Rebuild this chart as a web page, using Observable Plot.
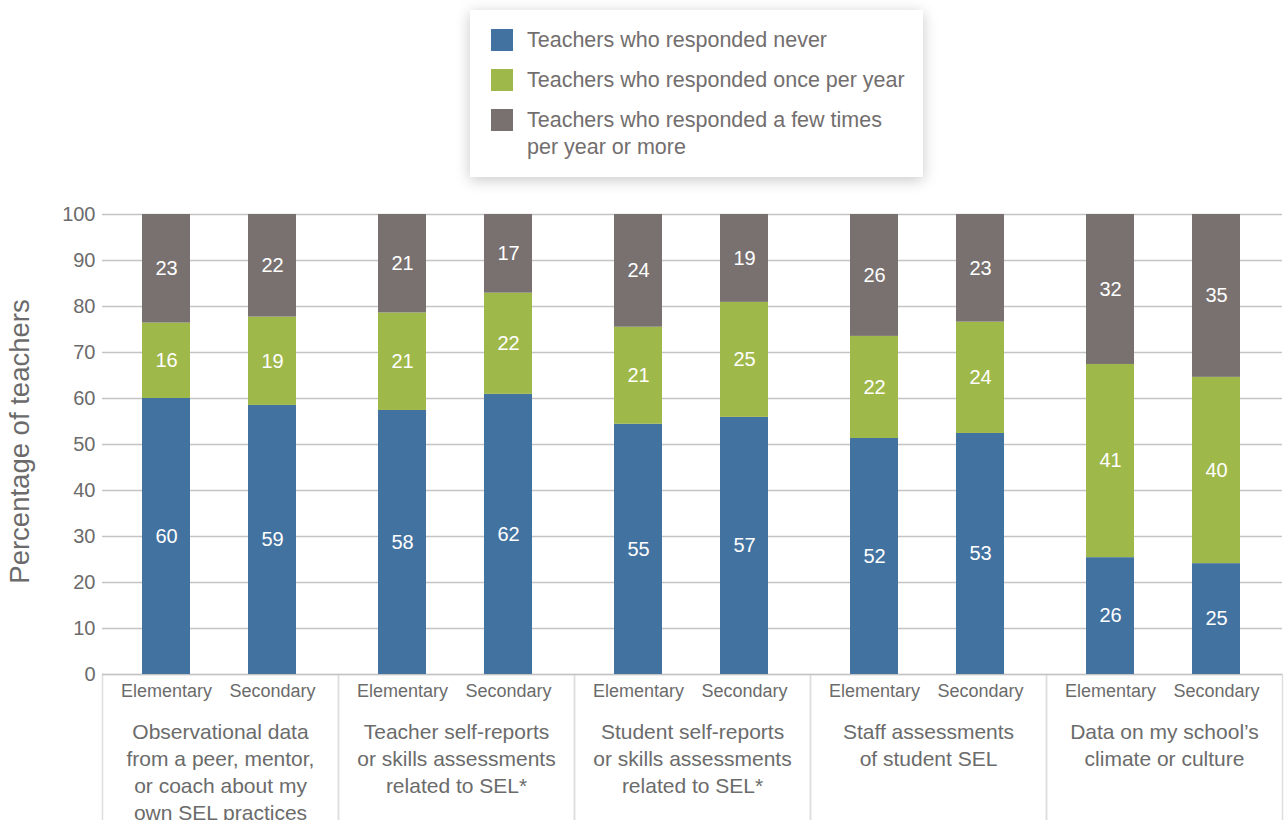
<!DOCTYPE html>
<html><head><meta charset="utf-8">
<script src="https://cdn.jsdelivr.net/npm/d3@7"></script>
<script src="https://cdn.jsdelivr.net/npm/@observablehq/plot@0.6"></script>
<style>
body{margin:0;background:#fff;width:1284px;height:820px;overflow:hidden;position:relative;font-family:"Liberation Sans",Arial,sans-serif;}
#legend{position:absolute;left:470px;top:10px;width:453px;height:167px;background:#fff;box-shadow:0 3px 14px rgba(0,0,0,0.22);box-sizing:border-box;padding-top:16.5px;}
.item{display:flex;align-items:flex-start;margin-bottom:13px;}
.sw{width:22px;height:22px;margin-left:21px;margin-top:2.5px;flex:none;}
.lab{margin-left:14px;width:384px;font-size:21.5px;line-height:27px;color:#736e6e;}
#chart{position:absolute;left:0;top:190px;}
</style></head>
<body>
<div id="legend"></div>
<div id="chart"></div>
<script>
const groups = [
  "Observational data\nfrom a peer, mentor,\nor coach about my\nown SEL practices",
  "Teacher self-reports\nor skills assessments\nrelated to SEL*",
  "Student self-reports\nor skills assessments\nrelated to SEL*",
  "Staff assessments\nof student SEL",
  "Data on my school’s\nclimate or culture"
];
const levels = ["Elementary", "Secondary"];
const series = [
  "Teachers who responded never",
  "Teachers who responded once per year",
  "Teachers who responded a few times per year or more"
];
const colors = ["#4272a0", "#9fb84a", "#787170"];
// segment heights (Elementary, Secondary per group)
const neverVals = [60.0, 58.5, 57.4, 60.9, 54.4, 55.9, 51.3, 52.4, 25.4, 24.1];
const onceVals  = [16.4, 19.2, 21.2, 22.0, 21.1, 25.0, 22.2, 24.2, 42.0, 40.5];
const fewVals   = [23.6, 22.3, 21.4, 17.1, 24.5, 19.1, 26.5, 23.4, 32.6, 35.4];
// printed labels
const neverLabels = [60, 59, 58, 62, 55, 57, 52, 53, 26, 25];
const onceLabels  = [16, 19, 21, 22, 21, 25, 22, 24, 41, 40];
const fewLabels   = [23, 22, 21, 17, 24, 19, 26, 23, 32, 35];
const yTicks = [0, 10, 20, 30, 40, 50, 60, 70, 80, 90, 100];
const yTitle = "Percentage of teachers";

// legend
const leg = document.getElementById("legend");
series.forEach((s, i) => {
  const it = document.createElement("div"); it.className = "item";
  const sw = document.createElement("div"); sw.className = "sw"; sw.style.background = colors[i];
  const lb = document.createElement("div"); lb.className = "lab"; lb.textContent = s;
  it.appendChild(sw); it.appendChild(lb); leg.appendChild(it);
});

const vals = [neverVals, onceVals, fewVals];
const labs = [neverLabels, onceLabels, fewLabels];
const rows = [];
for (let i = 0; i < neverVals.length; i++) {
  for (let s = 0; s < series.length; s++) {
    rows.push({group: groups[Math.floor(i / 2)], level: levels[i % 2], series: series[s], value: vals[s][i], label: labs[s][i]});
  }
}

const H = 634, mt = 24, mb = 150;
const innerH = H - mt - mb;
const txt = "#6b6b6b";
const chart = Plot.plot({
  width: 1284, height: H,
  marginLeft: 102, marginRight: 2, marginTop: mt, marginBottom: mb,
  style: {fontFamily: "'Liberation Sans', Arial, sans-serif", background: "transparent", overflow: "visible"},
  fx: {domain: groups, padding: 0, axis: null},
  x: {domain: levels, paddingInner: 0.548, paddingOuter: 0.387, align: 0.49, axis: null},
  y: {domain: [0, 100], axis: null},
  color: {domain: series, range: colors},
  marks: [
    Plot.frame({stroke: "#dedede", strokeWidth: 1.5, insetTop: innerH, insetBottom: -220}),
    Plot.gridY(yTicks, {stroke: "#c4c4c4", strokeOpacity: 1, strokeWidth: 1.5}),
    Plot.barY(rows, {fx: "group", x: "level", y: "value", fill: "series"}),
    Plot.text(rows, Plot.stackY({fx: "group", x: "level", y: "value", text: "label", fill: "white", fontSize: 20})),
    Plot.axisY(yTicks, {tickSize: 0, tickPadding: 7, fontSize: 20, color: txt, label: null}),
    Plot.axisX({tickSize: 0, tickPadding: 10, fontSize: 18, color: txt, label: null}),
    Plot.text(groups, {fx: d => d, text: d => d, frameAnchor: "bottom", lineAnchor: "top", dy: 45, fontSize: 21, lineHeight: 1.286, fill: txt}),
    Plot.text([yTitle], {fx: () => groups[0], text: d => d, frameAnchor: "left", textAnchor: "middle", rotate: -90, dx: -82, dy: -3, fontSize: 27.5, fill: txt})
  ]
});
document.getElementById("chart").appendChild(chart);
</script>
</body></html>
